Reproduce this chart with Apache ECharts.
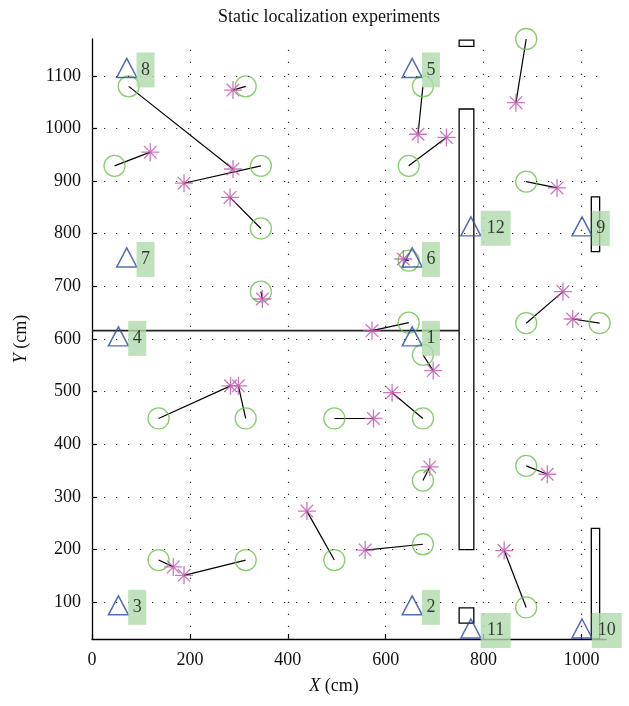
<!DOCTYPE html>
<html>
<head>
<meta charset="utf-8">
<script src="https://cdn.jsdelivr.net/npm/echarts@6/dist/echarts.min.js"></script>
<style>html,body{margin:0;padding:0;background:#fff}#chart{width:629px;height:706px}</style>
</head>
<body>
<div id="chart"></div>
<script>
// ---- data ----
const xTicks = [0, 200, 400, 600, 800, 1000];
const yTicks = [100, 200, 300, 400, 500, 600, 700, 800, 900, 1000, 1100];

// anchors (triangles) numbered 1..12
const anchorIds = ['1','2','3','4','5','6','7','8','9','10','11','12'];
const anchorX = [654, 654, 54, 54, 654, 654, 71, 71, 1001, 1001, 774, 774];
const anchorY = [605, 94, 94, 605, 1115, 755, 755, 1115, 814, 50, 50, 814];

// true positions (circles)
const trueX = [75, 314, 46, 345, 345, 345, 136, 314, 495, 647, 647, 676, 676, 676, 647, 887, 887, 887, 1037, 676, 887, 676, 887, 136, 314, 495];
const trueY = [1080, 1080, 929, 929, 810, 690, 449, 449, 449, 749, 631, 570, 449, 1080, 929, 1170, 899, 630, 630, 331, 359, 210, 90, 180, 180, 180];
// estimated positions (asterisks)
const estX = [288, 288, 119, 188, 282, 348, 283, 299, 575, 636, 572, 697, 613, 666, 724, 866, 950, 962, 982, 690, 930, 558, 842, 166, 188, 439];
const estY = [923, 1073, 955, 896, 869, 676, 511, 511, 449, 752, 616, 540, 498, 989, 983, 1049, 887, 690, 638, 357, 343, 199, 198, 167, 151, 273];

// obstacles: [x1, y1, x2, y2]
const wallRects = [[750, 200, 780, 1037], [750, 1156, 780, 1168], [750, 60, 780, 89], [1020, 766, 1037, 870], [1020, 30, 1037, 240]];
const wallLineX = [0, 750];
const wallLineY = [616, 616];

// ---- chart ----
const FONT = '"Liberation Serif", "DejaVu Serif", serif';
const chart = echarts.init(document.getElementById('chart'), null, {renderer: 'canvas'});

const starPath = 'path://M10 0 L10 20 M0 10 L20 10 M3 3 L17 17 M3 17 L17 3';

const option = {
  animation: false,
  backgroundColor: '#fff',
  title: {
    text: 'Static localization experiments',
    left: 213, top: 3,
    textStyle: {fontFamily: FONT, fontSize: 18, fontWeight: 'normal', color: '#111'}
  },
  grid: {left: 92, top: 39, right: 23, bottom: 67, containLabel: false},
  xAxis: {
    type: 'value', min: 0, max: 1050,
    name: '{i|X} (cm)', nameLocation: 'middle', nameGap: 38,
    nameTextStyle: {fontFamily: FONT, fontSize: 18, color: '#111', padding: [0, 30, 0, 0],
      rich: {i: {fontFamily: FONT, fontSize: 18, fontStyle: 'italic', color: '#111'}}},
    axisLine: {show: true, onZero: false, lineStyle: {color: '#000', width: 1.3}},
    axisTick: {show: true, inside: true, length: 5, customValues: xTicks, lineStyle: {color: '#000', width: 1.2}},
    axisLabel: {customValues: xTicks, margin: 12, fontFamily: FONT, fontSize: 18, color: '#111',
      formatter: v => String(v)},
    splitLine: {show: false}
  },
  yAxis: {
    type: 'value', min: 30, max: 1170,
    name: '{i|Y} (cm)', nameLocation: 'middle', nameGap: 62, nameRotate: 90,
    nameTextStyle: {fontFamily: FONT, fontSize: 18, color: '#111',
      rich: {i: {fontFamily: FONT, fontSize: 18, fontStyle: 'italic', color: '#111'}}},
    axisLine: {show: true, onZero: false, lineStyle: {color: '#000', width: 1.3}},
    axisTick: {show: true, inside: true, length: 5, customValues: yTicks, lineStyle: {color: '#000', width: 1.2}},
    axisLabel: {customValues: yTicks, margin: 11, fontFamily: FONT, fontSize: 18, color: '#111',
      formatter: v => String(v)},
    splitLine: {show: false}
  },
  series: [
    {
      name: 'grid', type: 'line', data: [], z: 1, silent: true,
      markLine: {
        silent: true, symbol: ['none', 'none'], label: {show: false}, animation: false,
        lineStyle: {color: '#333', width: 1.2, type: [1.2, 10.8]},
        emphasis: {disabled: true},
        data: yTicks.map(v => ({yAxis: v})).concat(xTicks.filter(v => v > 0).map(v => ({xAxis: v})))
      }
    },
    {
      name: 'wallLine', type: 'line', z: 2, silent: true, symbol: 'none',
      lineStyle: {color: '#222', width: 1.6},
      data: wallLineX.map((x, i) => [x, wallLineY[i]]),
      markArea: {
        silent: true, label: {show: false},
        itemStyle: {color: '#fff', borderColor: '#000', borderWidth: 1.3},
        data: wallRects.map(r => [{coord: [r[0], r[1]]}, {coord: [r[2], r[3]]}])
      }
    },
    {
      name: 'errors', type: 'lines', coordinateSystem: 'cartesian2d', z: 3, silent: true,
      lineStyle: {color: '#000', width: 1.2, opacity: 1},
      data: trueX.map((x, i) => ({coords: [[x, trueY[i]], [estX[i], estY[i]]]}))
    },
    {
      name: 'true', type: 'scatter', z: 4, silent: true,
      symbol: 'circle', symbolSize: 21,
      itemStyle: {color: 'rgba(0,0,0,0)', borderColor: '#6cbf4c', borderWidth: 1.3},
      data: trueX.map((x, i) => [x, trueY[i]])
    },
    {
      name: 'estimated', type: 'scatter', z: 5, silent: true,
      symbol: starPath, symbolSize: 18,
      itemStyle: {color: 'none', borderColor: '#c255ad', borderWidth: 1.3},
      data: estX.map((x, i) => [x, estY[i]])
    },
    {
      name: 'anchors', type: 'scatter', z: 6, silent: true,
      symbol: 'triangle', symbolSize: [20, 19],
      itemStyle: {color: 'rgba(0,0,0,0)', borderColor: '#2a49a8', borderWidth: 1.5},
      label: {
        show: true, position: 'right', distance: -1, offset: [0, 2],
        formatter: p => (p.name.length > 1 ? '{d|' : '{s|') + p.name + '}',
        rich: {
          s: {width: 18, height: 35, lineHeight: 35, align: 'center', backgroundColor: '#afdaab',
              fontFamily: FONT, fontSize: 18, color: '#111'},
          d: {width: 30, height: 35, lineHeight: 35, align: 'center', backgroundColor: '#afdaab',
              fontFamily: FONT, fontSize: 18, color: '#111'}
        }
      },
      data: anchorX.map((x, i) => ({name: anchorIds[i], value: [x, anchorY[i]]}))
    }
  ]
};
chart.setOption(option);
</script>
</body>
</html>
